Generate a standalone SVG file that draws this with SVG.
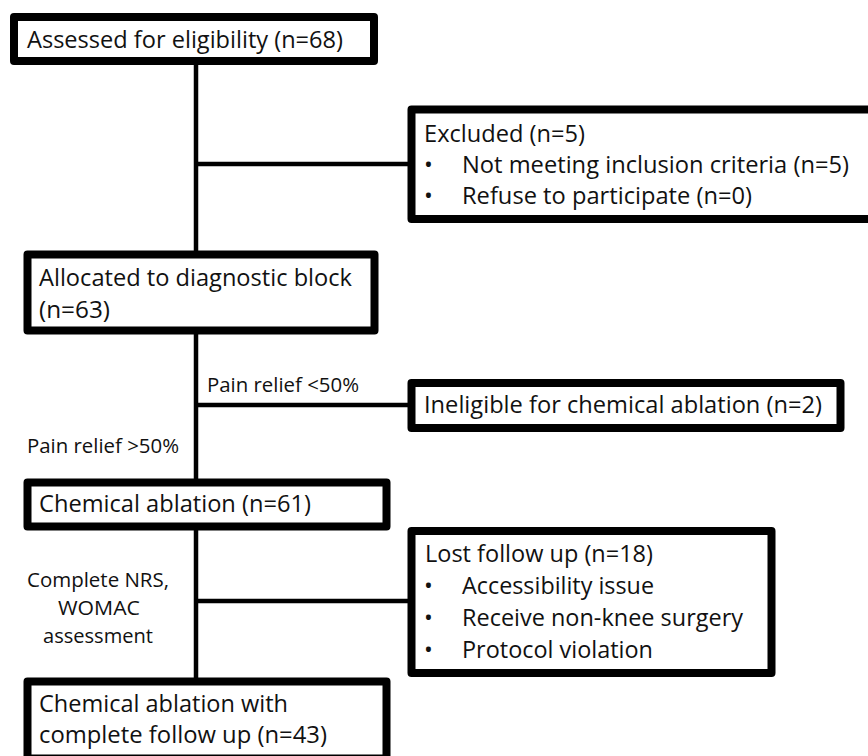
<svg xmlns="http://www.w3.org/2000/svg" width="868" height="756" viewBox="0 0 868 756">
<style>
.box{fill:#fff;stroke:#000;stroke-width:8;stroke-linejoin:round}
.ln{stroke:#000;stroke-width:4.5;fill:none}
.t{font-family:"Open Sans",Lato,sans-serif;font-size:23.5px;fill:#111}
.s{font-family:"Open Sans",Lato,sans-serif;font-size:20px;fill:#111}
.m{text-anchor:middle}
</style>
<rect width="868" height="756" fill="#fff"/>
<g id="connectors">
<line class="ln" x1="196" y1="61" x2="196" y2="255"/>
<line class="ln" x1="196" y1="330" x2="196" y2="483"/>
<line class="ln" x1="196" y1="526" x2="196" y2="682"/>
<line class="ln" x1="196" y1="164" x2="411" y2="164"/>
<line class="ln" x1="196" y1="405" x2="411" y2="405"/>
<line class="ln" x1="196" y1="601" x2="411" y2="601"/>
</g>
<g id="assessed">
<rect class="box" x="14" y="17" width="360" height="44"/>
<text class="t" x="27" y="48" textLength="316" lengthAdjust="spacingAndGlyphs">Assessed for eligibility (n=68)</text>
</g>
<g id="excluded">
<rect class="box" x="411.5" y="109.5" width="470" height="109.5"/>
<text class="t" x="424" y="142" textLength="161" lengthAdjust="spacingAndGlyphs">Excluded (n=5)</text>
<text class="t" x="424" y="173">•</text>
<text class="t" x="462" y="173" textLength="387" lengthAdjust="spacingAndGlyphs">Not meeting inclusion criteria (n=5)</text>
<text class="t" x="424" y="204">•</text>
<text class="t" x="462" y="204" textLength="290" lengthAdjust="spacingAndGlyphs">Refuse to participate (n=0)</text>
</g>
<g id="allocated">
<rect class="box" x="27.5" y="254.5" width="347" height="76"/>
<text class="t" x="39" y="286" textLength="313" lengthAdjust="spacingAndGlyphs">Allocated to diagnostic block</text>
<text class="t" x="39" y="318" textLength="71" lengthAdjust="spacingAndGlyphs">(n=63)</text>
</g>
<g id="label-lt50">
<text class="s" x="207" y="392" textLength="152" lengthAdjust="spacingAndGlyphs">Pain relief &lt;50%</text>
</g>
<g id="ineligible">
<rect class="box" x="411.5" y="383" width="429" height="45"/>
<text class="t" x="424" y="413" textLength="398" lengthAdjust="spacingAndGlyphs">Ineligible for chemical ablation (n=2)</text>
</g>
<g id="label-gt50">
<text class="s" x="27" y="453" textLength="152" lengthAdjust="spacingAndGlyphs">Pain relief &gt;50%</text>
</g>
<g id="ablation">
<rect class="box" x="27.5" y="482.5" width="359" height="44"/>
<text class="t" x="39" y="512" textLength="272" lengthAdjust="spacingAndGlyphs">Chemical ablation (n=61)</text>
</g>
<g id="label-complete">
<text class="s m" x="98" y="587" textLength="142" lengthAdjust="spacingAndGlyphs">Complete NRS,</text>
<text class="s m" x="99" y="615" textLength="82" lengthAdjust="spacingAndGlyphs">WOMAC</text>
<text class="s m" x="98" y="643" textLength="110" lengthAdjust="spacingAndGlyphs">assessment</text>
</g>
<g id="lost">
<rect class="box" x="411.5" y="531" width="360" height="142"/>
<text class="t" x="425" y="562" textLength="228" lengthAdjust="spacingAndGlyphs">Lost follow up (n=18)</text>
<text class="t" x="424" y="594">•</text>
<text class="t" x="462" y="594" textLength="192" lengthAdjust="spacingAndGlyphs">Accessibility issue</text>
<text class="t" x="424" y="626">•</text>
<text class="t" x="462" y="626" textLength="281" lengthAdjust="spacingAndGlyphs">Receive non-knee surgery</text>
<text class="t" x="424" y="658">•</text>
<text class="t" x="462" y="658" textLength="191" lengthAdjust="spacingAndGlyphs">Protocol violation</text>
</g>
<g id="complete">
<rect class="box" x="27.5" y="681.5" width="359" height="77"/>
<text class="t" x="39" y="712" textLength="249" lengthAdjust="spacingAndGlyphs">Chemical ablation with</text>
<text class="t" x="39" y="743" textLength="288" lengthAdjust="spacingAndGlyphs">complete follow up (n=43)</text>
</g>
</svg>
